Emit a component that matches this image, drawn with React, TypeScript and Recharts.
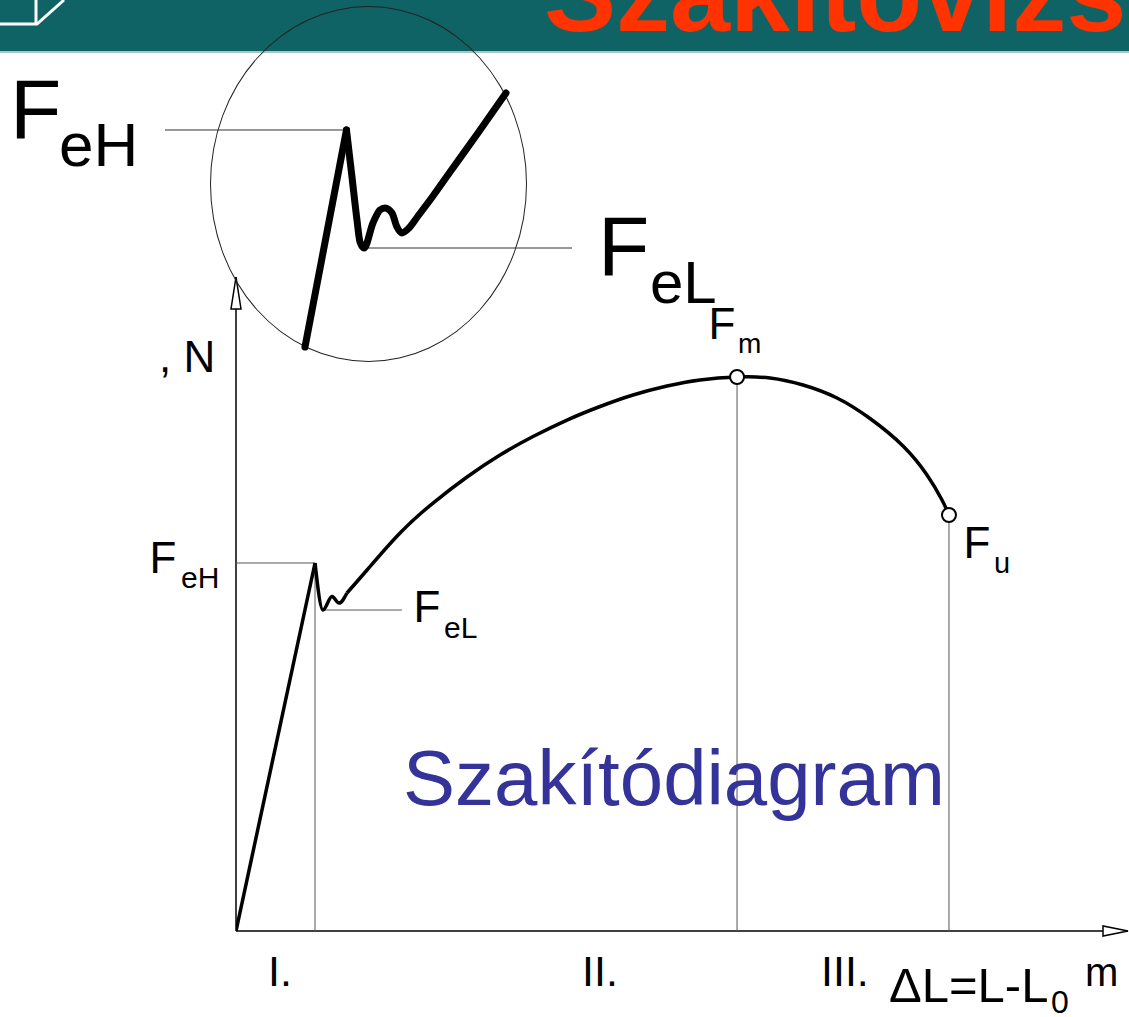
import React from 'react';
import { LineChart, Line, XAxis, YAxis, ReferenceLine, ReferenceDot } from 'recharts';

// ---- Main tensile diagram (ΔL and F in chart units 0..100) ----
const elasticDL = [0, 8.86];
const elasticF = [0, 56.27];
const yieldDL = [8.86, 9.75, 10.76, 11.55, 12.44];
const yieldF = [56.27, 49.08, 51.15, 50.15, 51.68];
const hardeningDL = [12.44, 14.69, 18.39, 22.09, 25.9, 29.6, 33.3, 37.11, 40.81, 44.51, 48.32, 52.02, 56.17, 59.87, 63.57, 67.38, 71.08, 74.78, 77.47, 79.15, 79.93];
const hardeningF = [51.68, 55.2, 60.86, 65.44, 69.42, 72.78, 75.61, 78.13, 80.2, 81.96, 83.33, 84.25, 84.71, 84.56, 83.49, 81.5, 78.36, 74.16, 69.72, 65.9, 63.61];

const pointFeH = { dl: 8.86, f: 56.27 };
const pointFeL = { dl: 9.75, f: 49.08 };
const feLLineEnd = 18.6;
const pointFm = { dl: 56.17, f: 84.71 };
const pointFu = { dl: 79.93, f: 63.61 };

// ---- Magnified inset (chart units 0..100) ----
const insetElasticDL = [34.52, 44.4];
const insetElasticF = [4.21, 65.17];
const insetYieldDL = [44.4, 45.71, 46.9, 47.62, 48.57, 50.71, 52.38, 53.57, 55.24, 56.43, 57.62, 59.05, 61.43, 65.0, 69.05, 75.71, 82.38];
const insetYieldF = [65.17, 51.97, 39.89, 33.71, 32.02, 39.04, 42.7, 43.26, 41.85, 37.92, 36.24, 37.36, 41.01, 46.63, 53.37, 64.33, 75.56];
const insetFeHLine = [1.19, 44.4];
const insetFeHLevel = 65.17;
const insetFeLLine = [48.57, 98.1];
const insetFeLLevel = 32.02;

const zip = (xs: number[], ys: number[]) => xs.map((x, i) => ({ x, y: ys[i] }));

const FONT = '"Liberation Sans", Arial, sans-serif';
const GUIDE = '#555';

const upArrow = (p: any) => (
  <polygon
    points={`${p.cx},${p.cy} ${p.cx - 5},${p.cy + 32} ${p.cx + 5},${p.cy + 32}`}
    fill="#fff"
    stroke="#000"
    strokeWidth={1.5}
  />
);
const rightArrow = (p: any) => (
  <polygon
    points={`${p.cx},${p.cy} ${p.cx - 25},${p.cy - 5} ${p.cx - 25},${p.cy + 5}`}
    fill="#fff"
    stroke="#000"
    strokeWidth={1.5}
  />
);

function MainChart() {
  return (
    <LineChart width={1129} height={1017} margin={{ top: 277, left: 236, right: 1, bottom: 86 }}>
      <XAxis type="number" dataKey="x" domain={[0, 100]} allowDataOverflow hide />
      <YAxis type="number" dataKey="y" domain={[0, 100]} allowDataOverflow hide />
      <ReferenceLine x={0} stroke="#000" strokeWidth={1.5} />
      <ReferenceLine y={0} stroke="#000" strokeWidth={1.5} />
      <ReferenceLine segment={[{ x: 0, y: pointFeH.f }, { x: pointFeH.dl, y: pointFeH.f }]} stroke={GUIDE} strokeWidth={1} />
      <ReferenceLine segment={[{ x: pointFeH.dl, y: 0 }, { x: pointFeH.dl, y: pointFeH.f }]} stroke={GUIDE} strokeWidth={1} />
      <ReferenceLine segment={[{ x: pointFeL.dl, y: pointFeL.f }, { x: feLLineEnd, y: pointFeL.f }]} stroke={GUIDE} strokeWidth={1} />
      <ReferenceLine segment={[{ x: pointFm.dl, y: 0 }, { x: pointFm.dl, y: pointFm.f }]} stroke={GUIDE} strokeWidth={1} />
      <ReferenceLine segment={[{ x: pointFu.dl, y: 0 }, { x: pointFu.dl, y: pointFu.f }]} stroke={GUIDE} strokeWidth={1} />
      <Line data={zip(elasticDL, elasticF)} dataKey="y" type="linear" stroke="#000" strokeWidth={3.5} dot={false} activeDot={false} isAnimationActive={false} strokeLinejoin="round" />
      <Line data={zip(yieldDL, yieldF)} dataKey="y" type="monotone" stroke="#000" strokeWidth={3.5} dot={false} activeDot={false} isAnimationActive={false} strokeLinejoin="round" />
      <Line data={zip(hardeningDL, hardeningF)} dataKey="y" type="natural" stroke="#000" strokeWidth={3.5} dot={false} activeDot={false} isAnimationActive={false} strokeLinejoin="round" />
      <ReferenceDot x={pointFm.dl} y={pointFm.f} r={7} fill="#fff" stroke="#000" strokeWidth={2} ifOverflow="visible" />
      <ReferenceDot x={pointFu.dl} y={pointFu.f} r={7} fill="#fff" stroke="#000" strokeWidth={2} ifOverflow="visible" />
      <ReferenceDot x={0} y={100} r={1} shape={upArrow} ifOverflow="visible" />
      <ReferenceDot x={100} y={0} r={1} shape={rightArrow} ifOverflow="visible" />
    </LineChart>
  );
}

function InsetChart() {
  return (
    <LineChart width={1129} height={1017} margin={{ top: 6, left: 160, right: 549, bottom: 655 }}>
      <XAxis type="number" dataKey="x" domain={[0, 100]} allowDataOverflow hide />
      <YAxis type="number" dataKey="y" domain={[0, 100]} allowDataOverflow hide />
      <ReferenceLine segment={[{ x: insetFeHLine[0], y: insetFeHLevel }, { x: insetFeHLine[1], y: insetFeHLevel }]} stroke="#333" strokeWidth={1} ifOverflow="visible" />
      <ReferenceLine segment={[{ x: insetFeLLine[0], y: insetFeLLevel }, { x: insetFeLLine[1], y: insetFeLLevel }]} stroke="#333" strokeWidth={1} ifOverflow="visible" />
      <Line data={zip(insetElasticDL, insetElasticF)} dataKey="y" type="linear" stroke="#000" strokeWidth={7} strokeLinecap="round" strokeLinejoin="round" dot={false} activeDot={false} isAnimationActive={false} />
      <Line data={zip(insetYieldDL, insetYieldF)} dataKey="y" type="monotone" stroke="#000" strokeWidth={7} strokeLinecap="round" strokeLinejoin="round" dot={false} activeDot={false} isAnimationActive={false} />
    </LineChart>
  );
}

const abs: React.CSSProperties = { position: 'absolute', left: 0, top: 0 };

export default function App() {
  return (
    <div style={{ position: 'absolute', left: 0, top: 0, width: 1129, height: 1017, background: '#fff', overflow: 'hidden' }}>
      <div style={{ ...abs, width: 1129, height: 51, background: '#0f6365' }} />
      <div style={{ ...abs, top: 51, width: 1129, height: 2, background: '#a9c6c6' }} />
      <svg width={1129} height={1017} style={abs}>
        <polyline points="0,24 37,24 64,0" fill="none" stroke="#fff" strokeWidth={3} />
        <line x1={36} y1={0} x2={36} y2={24} stroke="#fff" strokeWidth={3} />
        <text x={544} y={31} fontFamily={FONT} fontWeight="bold" fontSize={108} fill="#ff3300">Szakítóvizsgálat</text>
      </svg>
      <div style={abs}><MainChart /></div>
      <div style={{ ...abs, left: 210, top: 6, width: 317, height: 356, borderRadius: '50%', border: '1px solid #222', boxSizing: 'border-box' }} />
      <div style={abs}><InsetChart /></div>
      <svg width={1129} height={1017} style={{ ...abs, pointerEvents: 'none' }} fontFamily={FONT}>
        <text x={10} y={138} fontSize={84}>F</text>
        <text x={59} y={166} fontSize={62}>eH</text>
        <text x={598} y={275} fontSize={84}>F</text>
        <text x={650} y={303} fontSize={60}>eL</text>
        <text x={159} y={372} fontSize={44}>, N</text>
        <text x={149.5} y={573} fontSize={44}>F</text>
        <text x={181} y={588} fontSize={30}>eH</text>
        <text x={413.5} y={622} fontSize={44}>F</text>
        <text x={444} y={638} fontSize={30}>eL</text>
        <text x={708.5} y={339} fontSize={44}>F</text>
        <text x={738} y={353} fontSize={28}>m</text>
        <text x={963.5} y={558} fontSize={44}>F</text>
        <text x={994} y={573} fontSize={29}>u</text>
        <text x={403} y={805} fontSize={78} fill="#333399">Szakítódiagram</text>
        <text x={268} y={986} fontSize={43}>I.</text>
        <text x={582} y={986} fontSize={43}>II.</text>
        <text x={821} y={986} fontSize={43}>III.</text>
        <text x={889} y={1002} fontSize={49}>ΔL=L-L</text>
        <text x={1051} y={1013} fontSize={32}>0</text>
        <text x={1085} y={986} fontSize={40}>m</text>
      </svg>
    </div>
  );
}
